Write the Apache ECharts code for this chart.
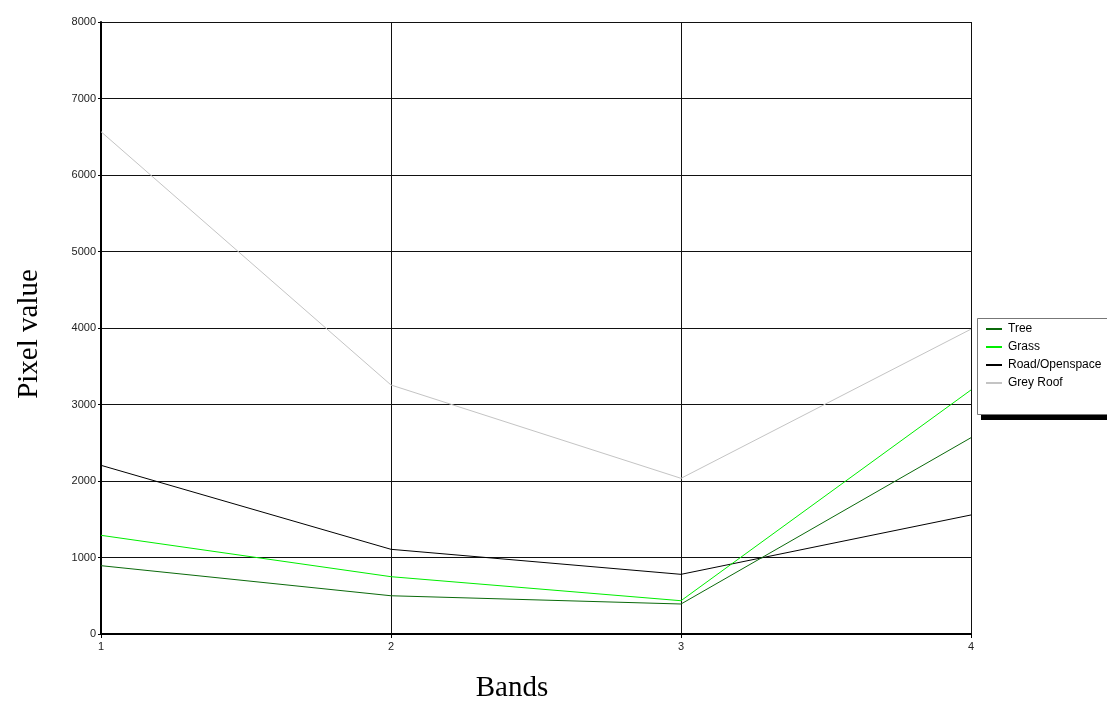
<!DOCTYPE html>
<html>
<head>
<meta charset="utf-8">
<script src="https://cdn.jsdelivr.net/npm/echarts@6/dist/echarts.min.js"></script>
<style>
html,body{margin:0;padding:0;background:#fff;}
#chart{width:1107px;height:701px;}
</style>
</head>
<body>
<div id="chart"></div>
<script>
const bands = [1, 2, 3, 4];
const tree = [893, 500, 392, 2566];
const grass = [1290, 749, 435, 3190];
const road = [2205, 1107, 780, 1556];
const greyRoof = [6566, 3255, 2035, 3985];
const seriesNames = ['Tree', 'Grass', 'Road/Openspace', 'Grey Roof'];
const seriesColors = ['#0b6a0b', '#00ee00', '#000000', '#c4c4c4'];
const seriesValues = [tree, grass, road, greyRoof];

const chart = echarts.init(document.getElementById('chart'));
const series = seriesValues.map((vals, i) => ({
  name: seriesNames[i],
  type: 'line',
  data: bands.map((b, j) => [b, vals[j]]),
  showSymbol: false,
  symbol: 'none',
  lineStyle: { color: seriesColors[i], width: 1 },
  itemStyle: { color: seriesColors[i] },
  z: 3 + (3 - i),
  animation: false
}));

chart.setOption({
  animation: false,
  backgroundColor: '#fff',
  grid: { left: 101, right: 136, top: 22, bottom: 67, containLabel: false, outerBoundsMode: 'none' },
  xAxis: {
    type: 'value', min: 1, max: 4, interval: 1,
    axisLine: { show: true, onZero: false, lineStyle: { color: '#000', width: 2 } },
    axisTick: { show: true, length: 4, lineStyle: { color: '#000' } },
    axisLabel: { color: '#222', fontSize: 11, fontFamily: 'Liberation Sans, Arial', margin: 7, formatter: v => String(v) },
    splitLine: { show: true, lineStyle: { color: '#111', width: 1 } }
  },
  yAxis: {
    type: 'value', min: 0, max: 8000, interval: 1000,
    axisLine: { show: true, onZero: false, lineStyle: { color: '#000', width: 2 } },
    axisTick: { show: true, length: 3, lineStyle: { color: '#000' } },
    axisLabel: { color: '#222', fontSize: 11, fontFamily: 'Liberation Sans, Arial', margin: 5, formatter: v => String(v) },
    splitLine: { show: true, lineStyle: { color: '#111', width: 1 } }
  },
  legend: {
    orient: 'vertical',
    left: 986, top: 322,
    padding: 0,
    itemWidth: 16, itemHeight: 2, itemGap: 4,
    icon: 'rect',
    z: 20,
    textStyle: { fontSize: 12, color: '#000', fontFamily: 'Liberation Sans, Arial', lineHeight: 14, padding: [0, 0, 0, 1] },
    data: seriesNames
  },
  graphic: [
    { type: 'rect', z: 15, shape: { x: 981, y: 414, width: 140, height: 6 }, style: { fill: '#000' } },
    { type: 'rect', z: 16, shape: { x: 977.5, y: 318.5, width: 140, height: 96 }, style: { fill: '#fff', stroke: '#777', lineWidth: 1 } },
    { type: 'text', z: 20, x: 29, y: 334, rotation: Math.PI / 2,
      style: { text: 'Pixel value', font: '29px "Liberation Serif", "Times New Roman", serif', fill: '#000', textAlign: 'center', textVerticalAlign: 'middle' } },
    { type: 'text', z: 20, x: 512, y: 688,
      style: { text: 'Bands', font: '29px "Liberation Serif", "Times New Roman", serif', fill: '#000', textAlign: 'center', textVerticalAlign: 'middle' } }
  ],
  series: series
});
</script>
</body>
</html>
